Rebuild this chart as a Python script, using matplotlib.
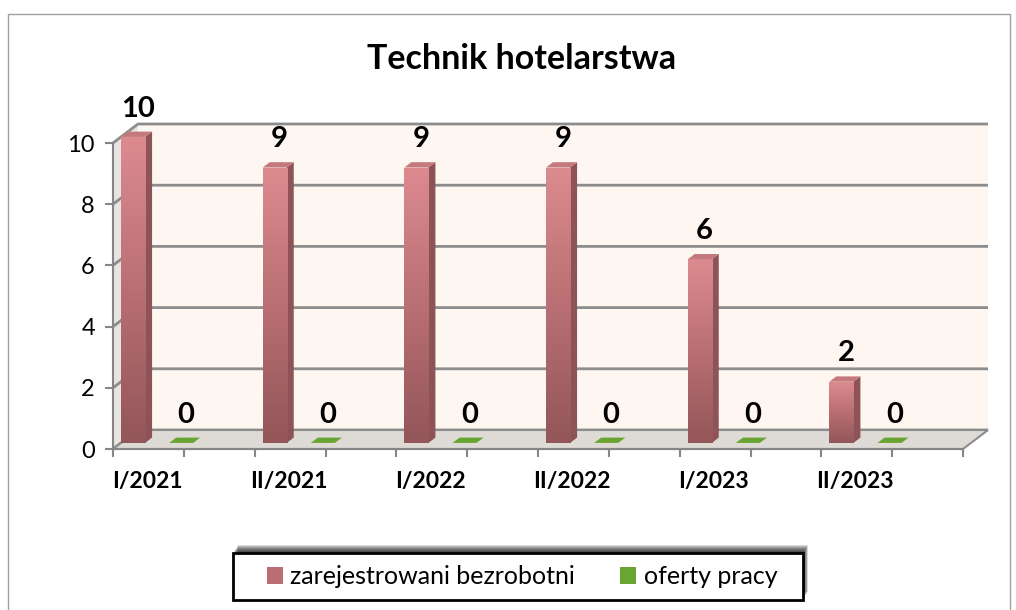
import numpy as np
import matplotlib.pyplot as plt
from matplotlib.patches import Polygon, Rectangle, Patch
from matplotlib.colors import LinearSegmentedColormap

plt.rcParams['font.family'] = ['Lato', 'DejaVu Sans']

# data
periods = ["I/2021", "II/2021", "I/2022", "II/2022", "I/2023", "II/2023"]
registered = [10, 9, 9, 9, 6, 2]
offers = [0, 0, 0, 0, 0, 0]
series_names = ["zarejestrowani bezrobotni", "oferty pracy"]
y_ticks = [0, 2, 4, 6, 8, 10]

W, H = 1016, 610
fig = plt.figure(figsize=(W / 100, H / 100), dpi=100)
ax = fig.add_axes([113 / W, 161 / H, 850 / W, 306 / H])
n = len(periods)
ymax = y_ticks[-1]

# fake 3D box: depth vector from front plane to back wall (data units)
dx, dy = 25 / 141.7, 19 / 30.6
f0, f1 = 0.32, 0.60          # depth range occupied by the columns
ddx, ddy = (f1 - f0) * dx, (f1 - f0) * dy
bw = 0.17                    # column width (category units)
grid_col = "#8c8c8c"

# walls and floor
ax.add_patch(Rectangle((dx, dy), n, ymax, fc="#fdf6f1", ec="none", zorder=0, clip_on=False))
ax.add_patch(Polygon([(0, 0), (dx, dy), (dx, ymax + dy), (0, ymax)],
                     fc="#e7e4e1", ec="none", zorder=0, clip_on=False))
for v in y_ticks:
    ax.plot([0, dx, n + dx], [v, v + dy, v + dy], color=grid_col, lw=2,
            zorder=0.5, clip_on=False, solid_capstyle="butt")
ax.add_patch(Polygon([(0, 0), (n, 0), (n + dx, dy), (dx, dy)],
                     fc="#dedad6", ec=grid_col, lw=1.5, zorder=1, clip_on=False))

red_cmap = LinearSegmentedColormap.from_list("red", ["#935659", "#b96f73", "#dc8b8f"])
grad = np.linspace(0, 1, 256).reshape(-1, 1)
base = f0 * dy


def draw_series(values, offset, face, side, top, gradient):
    xs = np.arange(n) + offset + f0 * dx
    bars = ax.bar(xs, values, width=bw, bottom=base, align="edge",
                  color=face, edgecolor="none", zorder=3, clip_on=False)
    for x, v, bar in zip(xs, values, bars):
        if v > 0:
            if gradient:
                im = ax.imshow(grad, extent=[x, x + bw, base, base + v], origin="lower",
                               cmap=red_cmap, aspect="auto", zorder=3.1)
                im.set_clip_path(bar)
            ax.add_patch(Polygon([(x + bw, base), (x + bw + ddx, base + ddy),
                                  (x + bw + ddx, base + ddy + v), (x + bw, base + v)],
                                 fc=side, ec="none", zorder=3, clip_on=False))
        ax.add_patch(Polygon([(x, base + v), (x + bw, base + v),
                              (x + bw + ddx, base + v + ddy), (x + ddx, base + v + ddy)],
                             fc=top, ec="none", zorder=3.2, clip_on=False))
        ax.annotate(str(v), (x + bw / 2 + ddx / 2, base + v + ddy / 2),
                    xytext=(1, 18.5), textcoords="offset points", ha="center", va="center",
                    fontsize=21, fontweight="bold", color="black", zorder=5,
                    annotation_clip=False)


draw_series(registered, 0.0, "#c27a7e", "#8e5356", "#c4797d", True)
draw_series(offers, 0.34, "#6aa533", "#4f7f24", "#6aa533", False)

ax.set_xlim(0, n)
ax.set_ylim(0, ymax)
ax.set_facecolor("none")
for s in ["top", "right"]:
    ax.spines[s].set_visible(False)
for s in ["left", "bottom"]:
    ax.spines[s].set_color("#868686")
    ax.spines[s].set_linewidth(1.5)
    ax.spines[s].set_zorder(2)

ax.set_yticks(y_ticks)
ax.tick_params(axis="y", length=6, width=1.5, color="#868686", pad=7, labelsize=17)
ax.set_xticks(np.arange(n) + 0.24, periods)
ax.set_xticks(np.arange(0, n + 0.01, 0.5), minor=True)
ax.tick_params(axis="x", which="major", length=0, pad=16, labelsize=16.5)
ax.tick_params(axis="x", which="minor", length=6, width=1.5, color="#868686")
for lbl in ax.get_xticklabels():
    lbl.set_fontweight("bold")

fig.text(522 / W, 1 - 59 / H, "Technik hotelarstwa", ha="center", va="center",
         fontsize=24.5, fontweight="bold")

# legend box with soft shadow
lx, ly, lw_, lh = 233, 553, 570, 47
for k in range(1, 9):
    fig.add_artist(Rectangle(((lx + 0.6 * k) / W, (H - ly - lh + k) / H), lw_ / W, lh / H,
                             transform=fig.transFigure, fc="black", ec="none",
                             alpha=0.15, zorder=1))
fig.add_artist(Rectangle((lx / W, (H - ly - lh) / H), lw_ / W, lh / H,
                         transform=fig.transFigure, fc="white", ec="black", lw=2, zorder=2))
handles = [Patch(fc="#b86e72", ec="none"), Patch(fc="#6aa533", ec="none")]
leg = fig.legend(handles, series_names, loc="center",
                 bbox_to_anchor=((lx + lw_ / 2 + 4) / W, 1 - (ly + lh / 2) / H),
                 ncol=2, frameon=False, fontsize=18, handlelength=0.65,
                 handleheight=0.65, handletextpad=0.3, columnspacing=1.8)
leg.set_zorder(3)

# outer chart border
fig.add_artist(Rectangle((8 / W, -0.01), 1002 / W, (H - 14) / H + 0.01,
                         transform=fig.transFigure, fill=False, ec="#a0a0a0", lw=1))

fig.savefig("out.png", dpi=100)
